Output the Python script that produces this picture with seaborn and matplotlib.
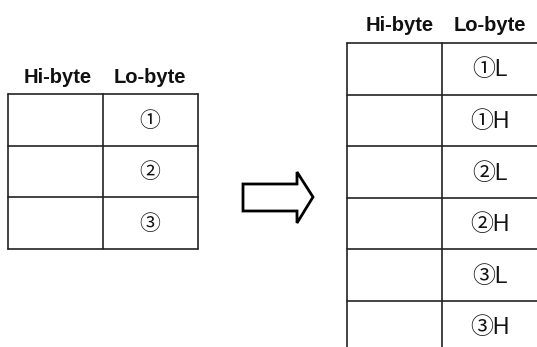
import matplotlib
matplotlib.use('Agg')
import matplotlib.pyplot as plt
from matplotlib.patches import Polygon
import seaborn as sns

# Table contents
headers = ['Hi-byte', 'Lo-byte']
left_lo = ['①', '②', '③']
right_lo = ['①L', '①H', '②L', '②H', '③L', '③H']

sns.set_theme(style='white')
plt.rcParams['font.family'] = ['Liberation Sans', 'Noto Sans CJK JP', 'DejaVu Sans']

fig = plt.figure(figsize=(5.37, 3.47), dpi=100)
ax = fig.add_axes([0, 0, 1, 1])
ax.set_xlim(0, 537)
ax.set_ylim(347, 0)
ax.axis('off')

line_kw = dict(color='#222222', lw=1.2)


def draw_table(x0, xmid, x1, y0, row_h, labels, head_y, head_x, font, close_bottom=True, y_end=None):
    n = len(labels)
    ys = [y0 + i * row_h for i in range(n + 1)]
    bottom = ys[-1] if close_bottom else y_end
    for i, y in enumerate(ys):
        if i == n and not close_bottom:
            continue
        ax.plot([x0, x1], [y, y], **line_kw)
    for x in (x0, xmid):
        ax.plot([x, x], [y0, bottom], **line_kw)
    if close_bottom:
        ax.plot([x1, x1], [y0, bottom], **line_kw)
    for hx, h in zip(head_x, headers):
        ax.text(hx, head_y, h, ha='center', va='center', fontsize=14.5,
                fontweight='bold', color='#111111')
    for i, lab in enumerate(labels):
        ax.text(head_x[1], ys[i] + row_h / 2 + 1, lab,
                ha='center', va='center', fontsize=font, color='#111111')


draw_table(8, 103, 198, 94, 51.7, left_lo, 77, (58, 150), 15)
draw_table(347, 442, 540, 43, 51.6, right_lo, 25, (400, 490), 16.5,
           close_bottom=False, y_end=350)

# arrow
arrow = Polygon([(243, 184), (297, 184), (297, 172), (313, 197),
                 (297, 223), (297, 211), (243, 211)],
                closed=True, fill=False, edgecolor='black', lw=2)
ax.add_patch(arrow)

fig.savefig('out.png', dpi=100)
